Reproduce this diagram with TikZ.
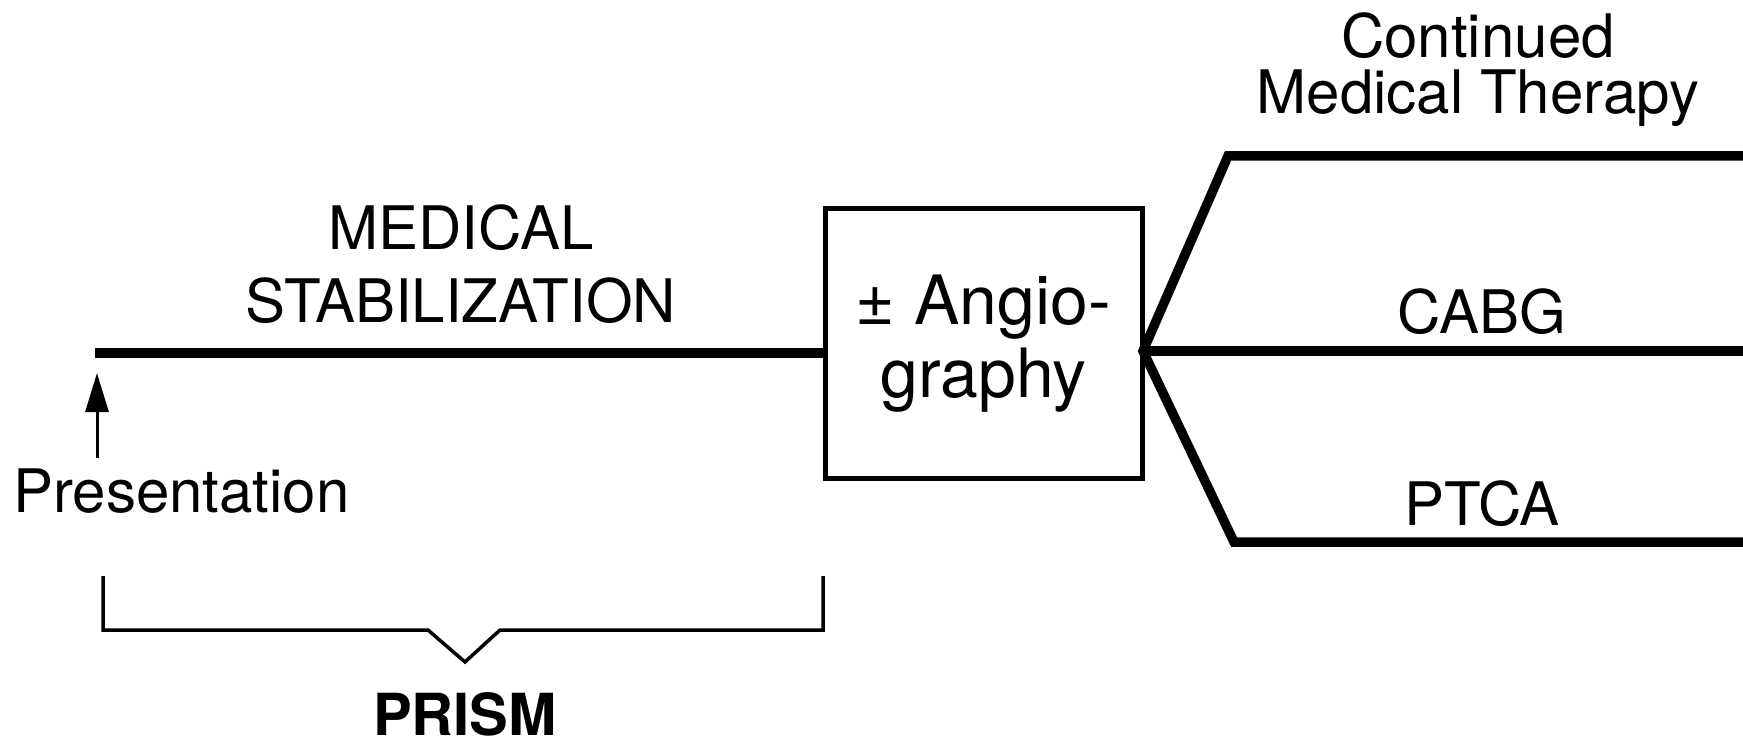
\documentclass[tikz,border=0pt]{standalone}
\usepackage{fontspec}
\setmainfont{TeX Gyre Heros}
\usetikzlibrary{arrows.meta}
\begin{document}
\begin{tikzpicture}[x=1pt,y=-1pt,
  lbl/.style={font=\fontsize{60}{60}\selectfont, inner sep=0pt, anchor=base},
  heavy/.style={line width=9.5pt, line join=miter, miter limit=2},
  bracketline/.style={line width=3.5pt, line join=miter},
  boxstyle/.style={draw, line width=5pt, minimum width=317pt, minimum height=269pt,
    inner sep=0pt, align=center, font=\fontsize{68}{73}\selectfont}]
\useasboundingbox (0,0) rectangle (1743,746);
% box
\node[boxstyle] (box) at (983.5,343.5) {± Angio-\\graphy};
% main line
\coordinate (start) at (95,353);
\draw[heavy] (start) -- (box.west |- start);
% branches
\coordinate (apex) at (1143,351);
\coordinate (t1) at (1228,156);
\coordinate (t2) at (1760,156);
\coordinate (m2) at (1760,351);
\coordinate (b1) at (1234,542);
\coordinate (b2) at (1760,542);
\draw[heavy] (t2) -- (t1) -- (apex) -- (b1) -- (b2);
\draw[heavy] (apex) -- (m2);
% labels
\node[lbl] (med) at (461,250) {MEDICAL};
\node[lbl] (stab) at (461,322) {STABILIZATION};
\node[lbl] (cont) at (1478,58) {Continued};
\node[lbl] (medther) at (1478,114) {Medical Therapy};
\node[lbl] (cabg) at (1482,333) {CABG};
\node[lbl] (ptca) at (1482,525) {PTCA};
\node[lbl, anchor=base west] (pres) at (13,512) {Presentation};
% arrow
\coordinate (arrtail) at (97,458);
\coordinate (arrtip) at (97,373);
\draw[line width=3pt, -{Triangle[length=39pt,width=23pt]}] (arrtail) -- (arrtip);
% bracket
\coordinate (bl1) at (103,576);
\coordinate (bl2) at (103,630);
\coordinate (v1) at (428,630);
\coordinate (vtip) at (465,662);
\coordinate (v2) at (500,630);
\coordinate (br2) at (823,630);
\coordinate (br1) at (823,576);
\draw[bracketline] (bl1) -- (bl2) -- (v1) -- (vtip) -- (v2) -- (br2) -- (br1);
\node[lbl, font=\fontsize{58}{58}\selectfont\bfseries] (prism) at (465,735) {PRISM};
\end{tikzpicture}
\end{document}
